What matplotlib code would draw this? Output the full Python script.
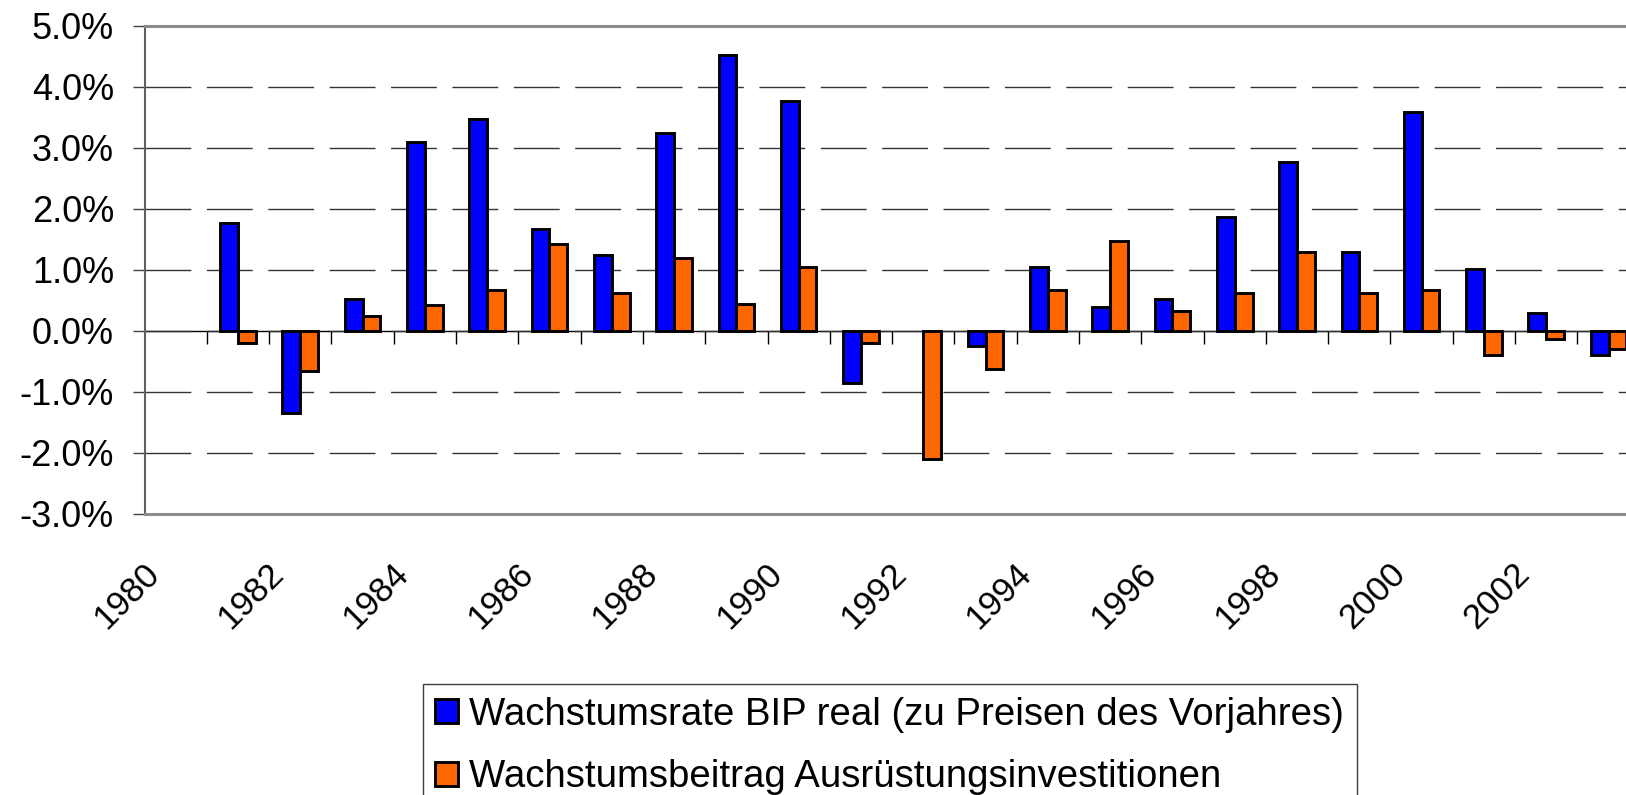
import numpy as np
import matplotlib
matplotlib.use("Agg")
import matplotlib.pyplot as plt

plt.rcParams["font.family"] = ["Liberation Sans", "DejaVu Sans"]

# data (percent); nan = no bar shown
years = [str(y) for y in range(1980, 2004)]
bip_real = [np.nan, 1.77, -1.34, 0.52, 3.10, 3.48, 1.67, 1.25, 3.24, 4.53, 3.77,
            -0.86, np.nan, -0.25, 1.05, 0.39, 0.52, 1.86, 2.77, 1.29, 3.58, 1.01,
            0.29, -0.39]
ausruestung = [np.nan, -0.20, -0.66, 0.25, 0.43, 0.67, 1.43, 0.62, 1.20, 0.44, 1.05,
               -0.20, -2.10, -0.62, 0.67, 1.48, 0.33, 0.62, 1.29, 0.62, 0.67, -0.39,
               -0.14, -0.29]
label_bip = "Wachstumsrate BIP real (zu Preisen des Vorjahres)"
label_aus = "Wachstumsbeitrag Ausrüstungsinvestitionen"
y_ticks = [-3, -2, -1, 0, 1, 2, 3, 4, 5]

fig = plt.figure(figsize=(16.26, 7.95), dpi=100)
ax = fig.add_axes([0.0889, 0.3535, 0.9195, 0.614])

x = np.arange(len(years))
w = 1 / 3.5
b1 = ax.bar(x - w / 2, bip_real, w, color="#0000FF", edgecolor="black",
            linewidth=2.1, label=label_bip, zorder=3)
b2 = ax.bar(x + w / 2, ausruestung, w, color="#FF6600", edgecolor="black",
            linewidth=2.1, label=label_aus, zorder=3)

ax.set_xlim(-0.5, len(years) - 0.5)
ax.set_ylim(-3, 5)
ax.set_yticks(y_ticks, labels=[f"{v:.1f}%" for v in y_ticks], fontsize=26)
ax.tick_params(axis="y", direction="out", length=9, width=1, color="#404040", pad=13)

# year labels every second category, shifted a bit to the left like Excel
ax.set_xticks(x[::2] - 0.16, labels=years[::2], fontsize=25, rotation=45,
              ha="right", va="top")
ax.tick_params(axis="x", length=0, pad=31)

ax.grid(axis="y", color="#333333", linewidth=1.0, linestyle=(0, (33, 11.2)), zorder=1)
ax.set_axisbelow(True)

for side in ["top", "bottom"]:
    ax.spines[side].set_color("#8c8c8c")
    ax.spines[side].set_linewidth(2.2)
ax.spines["left"].set_color("#606060")
ax.spines["left"].set_linewidth(1.5)
ax.spines["right"].set_visible(False)

# zero line with category separators
zero_pos = (0 - y_ticks[0]) / (y_ticks[-1] - y_ticks[0])
sec = ax.secondary_xaxis(zero_pos)
sec.set_xticks(x[:-1] + 0.5)
sec.tick_params(axis="x", direction="out", length=9, width=1, color="black",
                labelbottom=False, labeltop=False)
sec.spines["bottom"].set_color("black")
sec.spines["bottom"].set_linewidth(1.0)
sec.spines["top"].set_visible(False)

leg = fig.legend(handles=[b1, b2], loc="upper left",
                 bbox_to_anchor=(422.7 / 1626, 1 - 684 / 795), borderaxespad=0,
                 fontsize=27.6, handlelength=0.59, handleheight=0.59,
                 handletextpad=0.3, borderpad=0.33, labelspacing=0.7,
                 fancybox=False, framealpha=1, edgecolor="#404040")
leg.get_frame().set_linewidth(1.0)

fig.savefig("out.png", dpi=100)
